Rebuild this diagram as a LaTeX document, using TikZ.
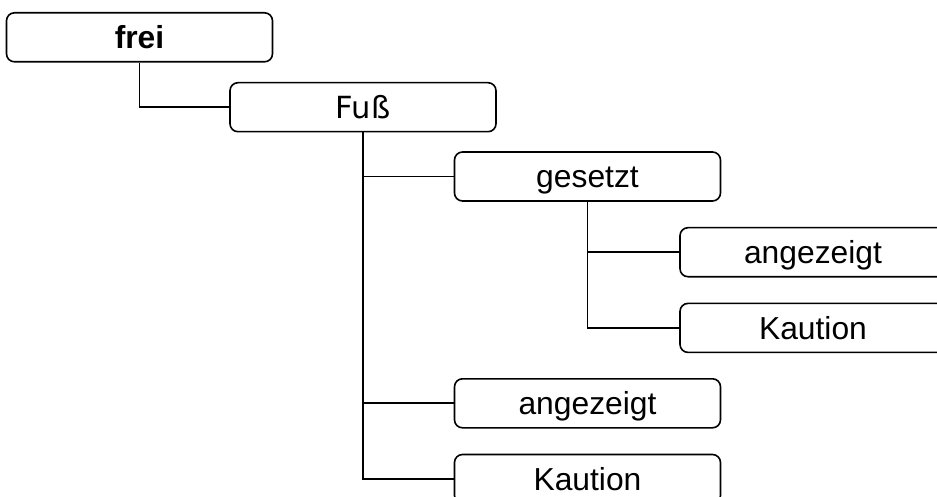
\documentclass[tikz,border=0pt]{standalone}
\usepackage{fontspec}
\setmainfont{Liberation Sans}
\newfontfamily\fussfont{DejaVu Sans}
\begin{document}
\begin{tikzpicture}[x=1pt,y=-1pt,
  box/.style={draw=black, line width=1.6pt, rounded corners=8pt, fill=white,
    minimum width=266pt, minimum height=49pt, inner sep=0pt,
    text height=22.5pt, text depth=0pt,
    font=\fontsize{31.8}{36}\selectfont},
  link/.style={draw=black, line width=1.7pt}]
  % page frame and clipping of boxes running past the border
  \useasboundingbox (0,0) rectangle (937,497);
  \clip (0,0) rectangle (937,497);

  % tree nodes
  \node[box, font=\fontsize{31.8}{36}\selectfont\bfseries] (frei) at (139.5,37.3) {frei};
  \node[box, font=\fontsize{30.5}{34}\selectfont\fussfont] (fuss) at (363,107.2) {Fuß};
  \node[box] (gesetzt) at (587.5,176.5) {gesetzt};
  \node[box] (angezeigtA) at (813,252.2) {angezeigt};
  \node[box] (kautionA) at (813,327.9) {Kaution};
  \node[box] (angezeigtB) at (587.5,403.3) {angezeigt};
  \node[box] (kautionB) at (587.5,479) {Kaution};

  % elbow connectors
  \draw[link] (frei.south) |- (fuss.west);
  \draw[link] (fuss.south) |- (gesetzt.west);
  \draw[link] (fuss.south) |- (angezeigtB.west);
  \draw[link] (fuss.south) |- (kautionB.west);
  \draw[link] (gesetzt.south) |- (angezeigtA.west);
  \draw[link] (gesetzt.south) |- (kautionA.west);
\end{tikzpicture}
\end{document}
